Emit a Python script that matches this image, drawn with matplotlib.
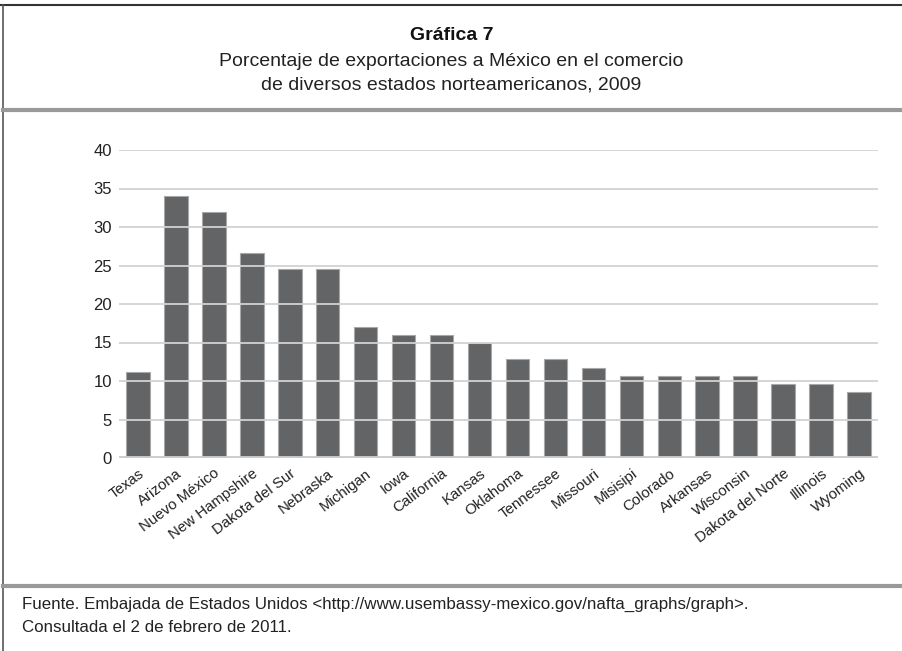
import matplotlib
matplotlib.use('Agg')
import matplotlib.pyplot as plt
from matplotlib.lines import Line2D

plt.rcParams['font.family'] = ['Liberation Sans', 'DejaVu Sans']

estados = ['Texas', 'Arizona', 'Nuevo México', 'New Hampshire', 'Dakota del Sur',
           'Nebraska', 'Michigan', 'Iowa', 'California', 'Kansas', 'Oklahoma',
           'Tennessee', 'Missouri', 'Misisipi', 'Colorado', 'Arkansas',
           'Wisconsin', 'Dakota del Norte', 'Illinois', 'Wyoming']
porcentaje = [11.2, 34.0, 31.9, 26.6, 24.5, 24.5, 17.0, 16.0, 16.0, 14.9,
              12.8, 12.8, 11.7, 10.7, 10.7, 10.7, 10.7, 9.6, 9.6, 8.6]
yticks = [0, 5, 10, 15, 20, 25, 30, 35, 40]

W, H = 903, 651
fig = plt.figure(figsize=(W / 100, H / 100), dpi=100)

def fy(px):
    return 1 - px / H

# frame and separators
fig.add_artist(Line2D([0, 1], [fy(5), fy(5)], transform=fig.transFigure, color='#333333', lw=1.5))
fig.add_artist(Line2D([3 / W, 3 / W], [0, fy(5)], transform=fig.transFigure, color='#555555', lw=1.2))
fig.add_artist(Line2D([3 / W, 1], [fy(110), fy(110)], transform=fig.transFigure, color='#999999', lw=3))
fig.add_artist(Line2D([3 / W, 1], [fy(586), fy(586)], transform=fig.transFigure, color='#999999', lw=3))

# header
fig.text(0.5, fy(36), 'Gráfica 7', ha='center', va='center', fontsize=14, fontweight='bold', color='#111111')
fig.text(0.5, fy(61), 'Porcentaje de exportaciones a México en el comercio', ha='center', va='center',
         fontsize=14, color='#222222')
fig.text(0.5, fy(85), 'de diversos estados norteamericanos, 2009', ha='center', va='center',
         fontsize=14, color='#222222')

# footer
fig.text(22 / W, fy(604), 'Fuente. Embajada de Estados Unidos <http://www.usembassy-mexico.gov/nafta_graphs/graph>.',
         ha='left', va='center', fontsize=12.2, color='#222222')
fig.text(22 / W, fy(628), 'Consultada el 2 de febrero de 2011.', ha='left', va='center',
         fontsize=12.2, color='#222222')

ax = fig.add_axes([119 / W, fy(458), 759 / W, 308 / H])
x = range(len(estados))
ax.bar(x, porcentaje, width=0.62, color='#636466', edgecolor='#a8a8a8', linewidth=0.8, zorder=2)
for t in yticks[1:]:
    ax.axhline(t, color='#d2d2d2', lw=1.3, zorder=3)
ax.axhline(0, color='#cccccc', lw=3.5, zorder=3)

ax.set_xlim(-0.5, len(estados) - 0.5)
ax.set_ylim(0, 40)
ax.set_yticks(yticks)
ax.set_xticks(list(x))
ax.set_xticklabels(estados, rotation=37, ha='right', va='top', rotation_mode='anchor')
ax.tick_params(axis='both', length=0, labelcolor='#222222')
ax.tick_params(axis='x', pad=6, labelsize=10.8)
ax.tick_params(axis='y', pad=5, labelsize=12)
for s in ax.spines.values():
    s.set_visible(False)

fig.savefig('out.png', dpi=100)
